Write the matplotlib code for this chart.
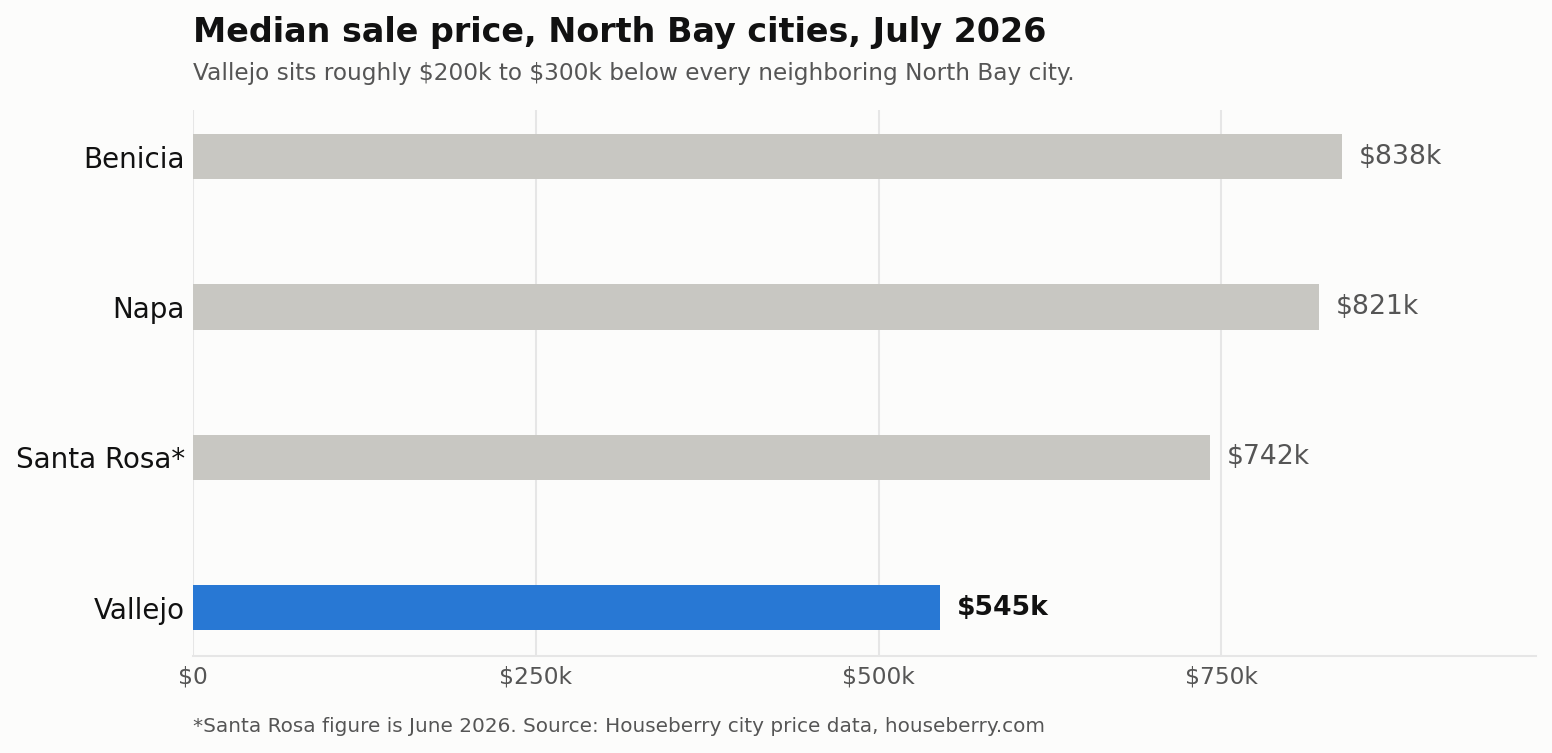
import matplotlib.pyplot as plt
from matplotlib.ticker import FuncFormatter

plt.rcParams["text.parse_math"] = False

cities = ["Benicia", "Napa", "Santa Rosa*", "Vallejo"]
prices = [838, 821, 742, 545]  # $k
highlight = "Vallejo"
ticks = [0, 250, 500, 750]

bg = "#fcfcfb"
fig = plt.figure(figsize=(15.52, 7.53), dpi=100, facecolor=bg)
ax = fig.add_axes([0.1244, 0.1288, 0.8653, 0.7252])
ax.set_facecolor(bg)

colors = ["#2878d4" if c == highlight else "#c8c7c2" for c in cities]
ypos = list(range(len(cities)))
ax.barh(ypos, prices, height=0.3, color=colors, zorder=3)

for y, c, v in zip(ypos, cities, prices):
    bold = c == highlight
    ax.annotate(f"${v}k", (v, y), xytext=(12, 0), textcoords="offset points",
                va="center", ha="left", fontsize=19.2,
                fontweight="bold" if bold else "normal",
                color="#111111" if bold else "#555555")

ax.set_yticks(ypos)
ax.set_yticklabels(cities, fontsize=20, color="#111111")
ax.set_ylim(3.32, -0.31)
ax.set_xlim(0, 979.5)
ax.set_xticks(ticks)
ax.xaxis.set_major_formatter(FuncFormatter(lambda x, p: "$0" if x == 0 else f"${int(x)}k"))
ax.tick_params(axis="x", labelsize=16.8, colors="#555555", length=0, pad=6.5)
ax.tick_params(axis="y", length=0, pad=6)
ax.grid(axis="x", color="#e6e6e6", linewidth=1.5, zorder=0)
for s in ["top", "right", "left"]:
    ax.spines[s].set_visible(False)
ax.spines["bottom"].set_color("#e6e6e6")
ax.spines["bottom"].set_linewidth(1.5)

fig.text(0.1244, 0.957, "Median sale price, North Bay cities, July 2026",
         fontsize=24, fontweight="bold", color="#111111", va="center")
fig.text(0.1244, 0.902, "Vallejo sits roughly $200k to $300k below every neighboring North Bay city.",
         fontsize=16.75, color="#555555", va="center")
fig.text(0.1244, 0.035, "*Santa Rosa figure is June 2026. Source: Houseberry city price data, houseberry.com",
         fontsize=14.4, color="#555555", va="center")

fig.savefig("out.png", dpi=100, facecolor=bg)
